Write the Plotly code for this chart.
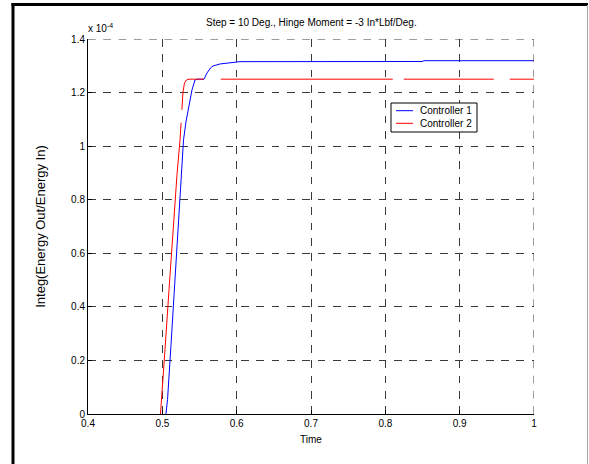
import plotly.graph_objects as go

# Data (y in units of 1e-4)
t1 = [0.5049, 0.5070, 0.5117, 0.5170, 0.5224, 0.5264, 0.5285, 0.5318, 0.5359, 0.5399,
      0.5439, 0.5473, 0.5561, 0.5601, 0.5648, 0.5682, 0.5776, 0.5951, 0.6045,
      0.8493, 0.8520, 1.0]
y1 = [0.0, 0.0541, 0.2591, 0.5015, 0.7625, 0.9489, 1.0234, 1.0906, 1.1465, 1.2099,
      1.2472, 1.250, 1.250, 1.2732, 1.2919, 1.2993, 1.3068, 1.3116, 1.3154,
      1.316, 1.319, 1.319]
t2 = [0.4975, 0.4996, 0.5036, 0.5090, 0.5144, 0.5197, 0.5238, 0.5251, 0.5265, 0.5278,
      0.5298, 0.5325, 0.5359, 1.0]
y2 = [0.0, 0.0727, 0.2405, 0.4642, 0.6879, 0.8929, 1.0234, 1.0794, 1.1427, 1.2024,
      1.2360, 1.2472, 1.250, 1.250]
series_names = ["Controller 1", "Controller 2"]
series_colors = ["#0000ff", "#ff0000"]
x_ticks = [0.4, 0.5, 0.6, 0.7, 0.8, 0.9, 1.0]
x_ticklabels = ["0.4", "0.5", "0.6", "0.7", "0.8", "0.9", "1"]
y_ticks = [0, 0.2, 0.4, 0.6, 0.8, 1.0, 1.2, 1.4]
y_ticklabels = ["0", "0.2", "0.4", "0.6", "0.8", "1", "1.2", "1.4"]
title_text = "Step = 10 Deg., Hinge Moment = -3 In*Lbf/Deg."

FONT = "Liberation Sans, Arial, sans-serif"
W, H = 589, 464
L, R, T, B = 88, 534, 39, 414
GRID_DASH = "7.7px,7.6px"
GRID_COLOR = "#3a3a3a"

fig = go.Figure()
fig.add_trace(go.Scatter(x=t1, y=y1, mode="lines", name=series_names[0],
                         line=dict(color=series_colors[0], width=1), showlegend=False))
fig.add_trace(go.Scatter(x=t2, y=y2, mode="lines", name=series_names[1],
                         line=dict(color=series_colors[1], width=1,
                                   dash="292px,13px,48px,17px,172px,11px,90px,16px,100px"),
                         showlegend=False))

def px2paper_x(p):
    return (p - L) / (R - L)

def px2paper_y(p):
    return (B - p) / (B - T)

fig.update_layout(
    width=W, height=H,
    margin=dict(l=L, r=W - R, t=T, b=H - B, pad=0),
    paper_bgcolor="white", plot_bgcolor="white",
    font=dict(family=FONT, size=10, color="black"),
    showlegend=False,
    xaxis=dict(range=[0.4, 1.0], tickvals=x_ticks, ticktext=x_ticklabels,
               showline=True, linecolor="black", linewidth=1,
               ticks="inside", ticklen=4, tickcolor="black",
               showgrid=True, gridcolor=GRID_COLOR, gridwidth=1, griddash=GRID_DASH,
               zeroline=False, title=dict(text="Time", standoff=7,
                                          font=dict(family=FONT, size=10))),
    yaxis=dict(range=[0, 1.4], tickvals=y_ticks, ticktext=y_ticklabels,
               showline=True, linecolor="black", linewidth=1,
               ticks="inside", ticklen=4, tickcolor="black",
               showgrid=True, gridcolor=GRID_COLOR, gridwidth=1, griddash=GRID_DASH,
               zeroline=False, title=dict(text="Integ(Energy Out/Energy In)", standoff=22,
                                          font=dict(family=FONT, size=13))),
)

# boundary grid lines (top and right) that plotly omits
fig.add_shape(type="line", xref="x", yref="y", x0=x_ticks[0], x1=x_ticks[-1],
              y0=y_ticks[-1], y1=y_ticks[-1],
              line=dict(color=GRID_COLOR, width=1, dash=GRID_DASH))
fig.add_shape(type="line", xref="x", yref="y", x0=x_ticks[-1], x1=x_ticks[-1],
              y0=y_ticks[0], y1=y_ticks[-1],
              line=dict(color=GRID_COLOR, width=1, dash=GRID_DASH))

fig.add_annotation(text=title_text, xref="paper", yref="paper",
                   x=0.5, y=px2paper_y(22), xanchor="center", yanchor="middle",
                   showarrow=False, font=dict(family=FONT, size=10))
fig.add_annotation(text="x 10<sup>-4</sup>", xref="paper", yref="paper",
                   x=px2paper_x(86), y=px2paper_y(36), xanchor="left", yanchor="bottom",
                   showarrow=False, font=dict(family=FONT, size=10))

# Legend (drawn box with line samples and labels)
fig.add_shape(type="rect", xref="paper", yref="paper",
              x0=px2paper_x(391), x1=px2paper_x(477), y0=px2paper_y(132), y1=px2paper_y(103),
              line=dict(color="black", width=1), fillcolor="white", layer="above")
for i, (name, col) in enumerate(zip(series_names, series_colors)):
    ypx = 110.7 + i * 12.6
    fig.add_shape(type="line", xref="paper", yref="paper",
                  x0=px2paper_x(396), x1=px2paper_x(413),
                  y0=px2paper_y(ypx), y1=px2paper_y(ypx),
                  line=dict(color=col, width=1), layer="above")
    fig.add_annotation(text=name, xref="paper", yref="paper",
                       x=px2paper_x(417.5), y=px2paper_y(ypx), xanchor="left", yanchor="middle",
                       showarrow=False, font=dict(family=FONT, size=10))

# Outer frame
fig.add_shape(type="line", xref="paper", yref="paper",
              x0=px2paper_x(13), x1=px2paper_x(13), y0=px2paper_y(3), y1=px2paper_y(470),
              line=dict(color="black", width=3))
fig.add_shape(type="line", xref="paper", yref="paper",
              x0=px2paper_x(11.5), x1=px2paper_x(588), y0=px2paper_y(4.5), y1=px2paper_y(4.5),
              line=dict(color="black", width=3))
fig.add_shape(type="line", xref="paper", yref="paper",
              x0=px2paper_x(587.5), x1=px2paper_x(587.5), y0=px2paper_y(5), y1=px2paper_y(470),
              line=dict(color="#aaaaaa", width=1))

fig.write_html("out.html")
